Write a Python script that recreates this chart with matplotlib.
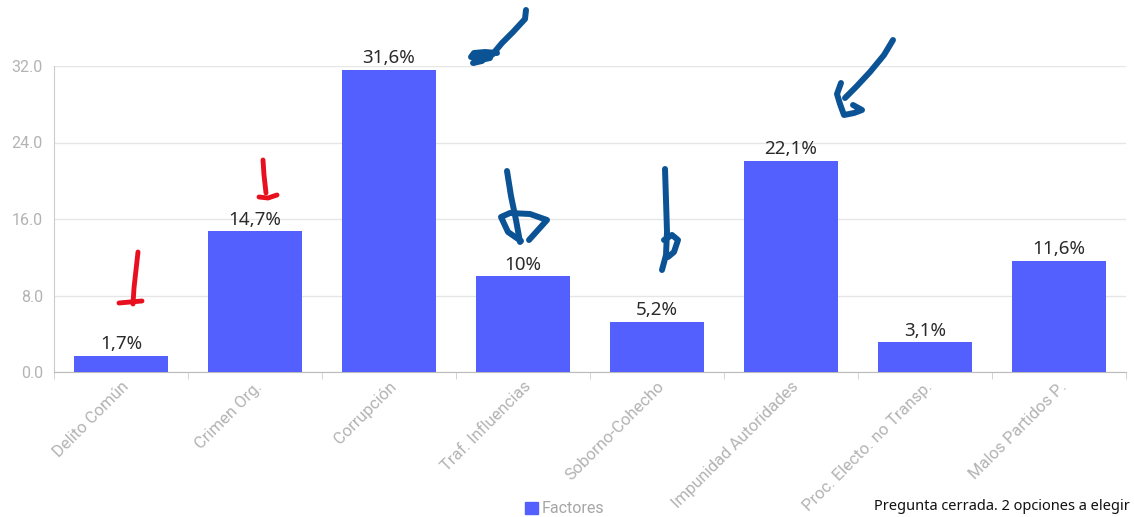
import matplotlib
matplotlib.use("Agg")
from matplotlib import pyplot as plt
from matplotlib.patches import Patch
from matplotlib.lines import Line2D


# data
categories = ['Delito Común', 'Crimen Org.', 'Corrupción', 'Traf. Influencias',
              'Soborno-Cohecho', 'Impunidad Autoridades', 'Proc. Electo. no Transp.',
              'Malos Partidos P.']
values = [1.7, 14.7, 31.6, 10.0, 5.2, 22.1, 3.1, 11.6]
value_labels = ['1,7%', '14,7%', '31,6%', '10%', '5,2%', '22,1%', '3,1%', '11,6%']
y_ticks = [0, 8, 16, 24, 32]
series_name = 'Factores'
note = 'Pregunta cerrada. 2 opciones a elegir'

BAR = '#5460fe'
GREY = '#b3b3b3'
W, H = 1134, 517

# hand drawn marks, in pixels from the top left corner
red_marks = [
    [(138, 252), (136, 270), (134, 288), (133, 304)],
    [(119, 303), (130, 302), (142, 301)],
    [(263, 160), (264, 175), (266, 193)],
    [(259, 197), (268, 198), (277, 195)],
]
blue_marks = [
    [(526, 10), (525, 19), (513, 32), (502, 43), (492, 55)],
    [(497, 53), (485, 52), (474, 53), (471, 57), (480, 58), (490, 58), (476, 61), (473, 63), (482, 61)],
    [(893, 40), (884, 55), (870, 72), (856, 87), (845, 98)],
    [(841, 83), (837, 94), (840, 104), (844, 115), (854, 113), (862, 110), (853, 105)],
    [(507, 171), (511, 196), (516, 220), (520, 242)],
    [(521, 241), (508, 232), (501, 217), (510, 213), (530, 214), (547, 220), (538, 230), (529, 240)],
    [(665, 169), (666, 200), (667, 232), (666, 255), (662, 270)],
    [(664, 240), (672, 235), (678, 240), (674, 252), (668, 257)],
]


def draw_marks(fig, marks, color, width):
    for m in marks:
        xs = [p[0] / W for p in m]
        ys = [1 - p[1] / H for p in m]
        fig.add_artist(Line2D(xs, ys, transform=fig.transFigure, color=color,
                              lw=width, solid_capstyle='round',
                              solid_joinstyle='round'))


def main():
    fig = plt.figure(figsize=(W / 100, H / 100), dpi=100)
    ax = fig.add_axes([54 / W, 1 - 372 / H, 1072 / W, 306 / H])

    x = list(range(len(categories)))
    ax.bar(x, values, width=0.7, color=BAR, zorder=3)
    for xi, v, lab in zip(x, values, value_labels):
        ax.annotate(lab, (xi, v), xytext=(0, 2), textcoords='offset points',
                    ha='center', va='bottom', fontsize=13.5, color='#2b2b2b',
                    family='Noto Sans', clip_on=False)

    ax.set_xlim(-0.5, len(categories) - 0.5)
    ax.set_ylim(0, 32)
    ax.set_yticks(y_ticks)
    ax.set_yticklabels([f'{t:.1f}' for t in y_ticks], family='Roboto',
                       fontsize=11.5, color=GREY)
    ax.tick_params(axis='y', length=0, pad=8)
    ax.yaxis.grid(True, color='#e6e6e6', lw=1, zorder=0)

    ax.set_xticks(x)
    ax.set_xticklabels(categories, rotation=45, ha='right',
                       rotation_mode='anchor', family='Roboto',
                       fontsize=12, color=GREY)
    ax.tick_params(axis='x', length=0, pad=5)
    ax.set_xticks([i - 0.5 for i in range(len(categories) + 1)], minor=True)
    ax.tick_params(axis='x', which='minor', length=5, color='#cccccc')

    for s in ['top', 'right']:
        ax.spines[s].set_visible(False)
    ax.spines['left'].set_color('#cccccc')
    ax.spines['bottom'].set_color('#bbbbbb')

    fig.legend(handles=[Patch(color=BAR, label=series_name)],
               loc='center', bbox_to_anchor=(0.498, 0.016), frameon=False,
               handlelength=0.8, handleheight=0.8, handletextpad=0.25,
               prop={'family': 'Roboto', 'size': 11.5}, labelcolor='#a6a6a6')
    fig.text(0.9965, 0.014, note, ha='right', va='baseline',
             family='Noto Sans', fontsize=10.5, color='#111111')

    draw_marks(fig, red_marks, '#e8101e', 3.5)
    draw_marks(fig, blue_marks, '#0b5394', 4.3)

    fig.savefig('out.png', dpi=100)


if __name__ == "__main__":
    main()
